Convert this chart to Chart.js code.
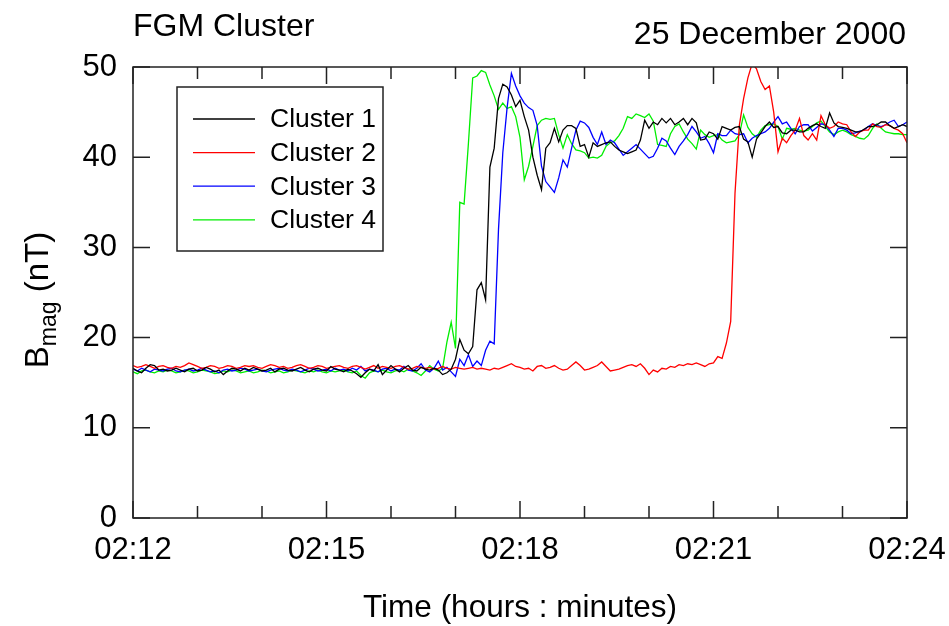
<!DOCTYPE html>
<html><head><meta charset="utf-8">
<script src="https://cdn.jsdelivr.net/npm/chart.js@4"></script>
<style>html,body{margin:0;padding:0;background:#fff}#wrap{width:949px;height:626px}</style>
</head><body><div id="wrap"><canvas id="c" width="949" height="626"></canvas></div>
<script>
// ---- data (4 s spin resolution) ----
const sampleStepSeconds = 4;
const seriesNames = ['Cluster 1', 'Cluster 2', 'Cluster 3', 'Cluster 4'];
const seriesColors = ['#000000', '#ff0000', '#0000ff', '#00ee00'];

const cluster1 = [
16.6,16.3,16.1,16.6,17.0,16.9,16.4,16.5,16.3,16.4,
16.6,16.4,16.2,16.5,16.6,16.3,16.4,16.7,16.5,16.2,
16.4,15.9,16.3,16.6,16.5,16.3,16.6,16.4,16.7,16.5,
16.3,16.4,16.6,16.2,16.5,16.6,16.4,16.3,16.5,16.7,
16.4,16.2,16.5,16.6,16.4,16.3,16.8,16.5,16.4,16.2,
16.5,16.3,16.0,15.6,16.1,16.5,16.3,17.0,15.9,16.4,
16.9,16.5,16.2,16.6,16.9,16.4,16.3,16.7,16.5,16.4,
16.6,16.4,15.9,16.1,16.5,17.6,19.8,18.6,18.2,19.0,
25.3,26.1,24.2,38.9,41.0,46.5,48.1,47.8,46.9,45.6,
46.3,44.5,43.0,40.0,38.0,36.4,41.0,41.6,43.2,41.7,
43.0,43.5,43.5,43.2,41.2,41.4,40.0,41.6,41.2,41.4,
41.6,41.7,41.2,40.8,40.6,40.4,40.6,40.8,41.9,44.1,
43.2,43.9,43.6,44.3,43.8,44.3,43.6,43.9,44.3,43.6,
44.3,43.8,41.9,42.0,42.8,42.6,42.0,43.4,43.2,43.0,
43.3,43.4,42.0,41.7,40.0,42.0,42.7,43.4,43.9,43.3,
43.4,42.7,42.6,43.0,43.0,42.8,42.8,43.2,43.5,43.7,
43.4,43.2,44.9,43.8,43.4,43.3,43.2,43.0,42.8,42.8,
43.1,43.4,43.4,43.6,43.9,43.9,43.5,43.2,43.4,43.6,43.4];

const cluster2 = [
16.9,16.7,16.8,17.0,16.8,16.6,16.8,16.9,16.7,16.6,
16.8,16.7,16.9,17.2,17.0,16.8,16.6,16.7,16.9,16.8,
16.6,16.7,16.9,16.8,16.6,16.7,16.9,16.8,16.9,16.7,
16.6,16.8,17.0,16.9,16.7,16.8,16.6,16.7,16.9,17.0,
16.8,16.6,16.7,16.9,16.8,16.6,16.7,16.8,16.9,16.7,
16.6,16.8,16.9,16.7,16.5,16.7,16.9,16.6,16.8,16.7,
16.6,16.8,16.9,16.7,16.5,16.6,16.8,16.7,16.6,16.7,
16.5,16.6,16.8,16.6,16.5,16.7,16.6,16.5,16.6,16.7,
16.5,16.6,16.5,16.4,16.6,16.5,16.7,16.9,17.1,16.8,
16.7,16.5,16.6,16.3,16.8,16.9,16.6,16.7,16.9,16.6,
16.4,16.5,16.9,17.3,16.9,16.4,16.5,16.7,16.9,17.3,
16.8,16.3,16.4,16.5,16.7,16.9,17.0,16.8,17.1,16.6,
15.9,16.4,16.2,16.6,16.5,16.8,16.7,17.0,16.9,17.1,
17.0,17.2,17.0,16.8,17.1,17.2,17.9,17.7,19.4,21.8,
36.0,43.5,46.5,48.8,50.4,49.8,48.4,47.5,47.9,45.0,
40.6,42.1,41.6,42.4,43.0,44.3,42.4,41.9,42.6,41.9,
44.6,43.6,43.2,43.4,43.9,43.7,43.6,42.8,42.3,42.8,
43.0,43.0,43.7,43.4,43.3,43.6,43.5,43.2,43.0,42.6,41.6];

const cluster3 = [
16.5,16.3,16.6,16.4,16.2,16.5,16.4,16.3,16.5,16.6,
16.3,16.2,16.4,16.5,16.3,16.4,16.6,16.4,16.2,16.3,
16.1,16.4,16.5,16.3,16.4,16.6,16.5,16.3,16.4,16.5,
16.3,16.2,16.4,16.5,16.6,16.4,16.3,16.5,16.4,16.2,
16.4,16.6,16.5,16.3,16.4,16.5,16.3,16.6,16.4,16.5,
16.3,16.6,16.4,16.8,16.3,16.5,16.4,16.2,16.5,16.6,
16.3,16.5,16.4,16.8,16.4,16.3,16.6,17.1,16.4,16.2,
16.6,17.4,16.4,16.7,16.2,15.7,17.6,16.9,18.1,16.8,
17.4,16.9,18.6,19.6,19.3,32.0,40.5,45.5,49.3,47.9,
46.8,46.0,45.5,45.2,43.5,39.0,37.3,36.7,36.1,37.7,
39.7,38.9,41.0,43.0,44.0,43.8,43.3,42.2,41.4,42.8,
41.4,41.9,41.6,40.9,40.2,40.6,41.0,41.4,40.9,40.4,
39.9,40.1,41.0,42.1,41.8,41.0,40.3,41.2,41.8,42.5,
43.4,42.8,42.1,42.3,41.5,40.5,42.6,42.4,42.4,43.0,
42.6,42.5,42.6,41.6,42.1,42.4,42.6,42.8,43.2,43.9,
44.5,43.7,43.9,43.2,42.6,43.4,43.6,43.6,42.9,43.3,
43.7,43.6,43.0,42.3,43.2,43.2,43.0,42.6,42.7,42.9,
43.0,43.4,43.7,43.5,43.4,43.6,43.9,44.1,43.4,43.6,43.9];

const cluster4 = [
16.2,16.0,16.3,16.4,16.2,16.1,16.3,16.2,16.4,16.3,
16.1,16.2,16.4,16.3,16.1,16.2,16.4,16.3,16.2,16.0,
16.1,16.3,16.2,16.4,16.3,16.1,16.2,16.3,16.1,16.2,
16.4,16.3,16.1,16.2,16.3,16.1,16.2,16.4,16.3,16.2,
16.1,16.3,16.2,16.4,16.2,16.1,16.3,16.2,16.3,16.4,
16.2,16.1,16.3,15.8,15.5,16.1,16.3,16.2,16.4,16.2,
16.1,16.3,16.4,16.2,16.5,16.3,16.1,15.8,16.3,16.9,
16.5,16.3,16.6,19.5,21.7,18.8,35.0,34.8,41.5,48.8,
49.0,49.6,49.4,48.0,46.8,45.3,46.0,45.4,45.6,44.5,
42.2,37.5,39.0,41.2,43.5,44.1,44.3,44.2,44.3,42.5,
41.0,42.5,41.5,40.8,40.7,40.5,39.9,40.0,39.9,40.2,
41.2,41.6,41.8,42.4,43.2,44.5,44.3,44.8,44.6,44.4,
44.8,44.0,41.4,41.3,41.2,42.6,43.4,43.7,42.8,42.0,
41.5,40.9,43.0,42.5,42.2,42.4,42.5,41.9,41.6,41.7,
41.8,42.5,44.7,43.3,42.6,42.2,43.0,43.5,43.6,43.7,
43.4,42.0,43.2,43.1,43.2,43.0,42.9,43.0,43.4,43.8,
44.0,43.4,42.8,42.5,42.8,43.0,42.8,42.5,42.3,42.1,
42.0,42.4,43.2,43.7,43.2,42.8,42.7,42.6,42.6,42.5,42.5];

// axis ticks: minutes after 02:12
const xTickValues = [0, 3, 6, 9, 12];
const xTickLabels = ['02:12', '02:15', '02:18', '02:21', '02:24'];
const xMinorTickValues = [0,1,2,3,4,5,6,7,8,9,10,11,12];
const yTickValues = [0, 10, 20, 30, 40, 50];

const FONT = "'Liberation Sans', Arial, Helvetica, sans-serif";
const allSeries = [cluster1, cluster2, cluster3, cluster4];

function toPoints(arr) {
  return arr.map((v, i) => ({ x: i * sampleStepSeconds / 60, y: v }));
}

const decor = {
  id: 'decor',
  afterDatasetsDraw(chart) {
    const { ctx, chartArea: a, scales: { x, y } } = chart;
    ctx.save();
    // frame
    ctx.strokeStyle = '#222';
    ctx.lineWidth = 1.5;
    ctx.strokeRect(a.left, a.top, a.right - a.left, a.bottom - a.top);
    // inward ticks
    ctx.beginPath();
    xMinorTickValues.forEach(m => {
      const px = x.getPixelForValue(m);
      const len = xTickValues.includes(m) ? 17 : 12;
      ctx.moveTo(px, a.bottom); ctx.lineTo(px, a.bottom - len);
      ctx.moveTo(px, a.top); ctx.lineTo(px, a.top + len);
    });
    yTickValues.forEach(v => {
      const py = y.getPixelForValue(v);
      ctx.moveTo(a.left, py); ctx.lineTo(a.left + 17, py);
      ctx.moveTo(a.right, py); ctx.lineTo(a.right - 17, py);
    });
    ctx.stroke();

    // header texts
    ctx.fillStyle = '#000';
    ctx.textBaseline = 'alphabetic';
    ctx.font = '32px ' + FONT;
    ctx.textAlign = 'left';
    ctx.fillText('FGM Cluster', 133, 36);
    ctx.textAlign = 'right';
    ctx.fillText('25 December 2000', 906, 44);

    // x title
    ctx.textAlign = 'center';
    ctx.font = '31.5px ' + FONT;
    ctx.fillText('Time (hours : minutes)', (a.left + a.right) / 2, 617);

    // y title with subscript
    ctx.save();
    ctx.translate(48, 300);
    ctx.rotate(-Math.PI / 2);
    ctx.textAlign = 'left';
    const big = '33px ' + FONT, small = '23px ' + FONT;
    ctx.font = big; const wB = ctx.measureText('B').width; const wR = ctx.measureText(' (nT)').width;
    ctx.font = small; const wS = ctx.measureText('mag').width;
    let sx = -(wB + wS + wR) / 2;
    ctx.font = big; ctx.fillText('B', sx, 0); sx += wB;
    ctx.font = small; ctx.fillText('mag', sx, 8); sx += wS;
    ctx.font = big; ctx.fillText(' (nT)', sx, 0);
    ctx.restore();

    // legend
    const lx = 177, ly = 87, lw = 206, lh = 164;
    ctx.fillStyle = '#fff';
    ctx.fillRect(lx, ly, lw, lh);
    ctx.strokeStyle = '#222'; ctx.lineWidth = 1.5;
    ctx.strokeRect(lx, ly, lw, lh);
    ctx.font = '26.5px ' + FONT;
    ctx.textAlign = 'left';
    ctx.textBaseline = 'middle';
    chart.data.datasets.forEach((ds, i) => {
      const yy = 119 + i * 33.6;
      ctx.strokeStyle = ds.borderColor; ctx.lineWidth = 1.3;
      ctx.beginPath(); ctx.moveTo(193, yy); ctx.lineTo(255, yy); ctx.stroke();
      ctx.fillStyle = '#000';
      ctx.fillText(ds.label, 270, yy + 1);
    });
    ctx.restore();
  }
};

new Chart(document.getElementById('c'), {
  type: 'line',
  data: {
    datasets: allSeries.map((arr, i) => ({
      label: seriesNames[i],
      data: toPoints(arr),
      borderColor: seriesColors[i],
      borderWidth: 1.3,
      pointRadius: 0,
      tension: 0,
      fill: false
    }))
  },
  options: {
    responsive: false,
    animation: false,
    events: [],
    layout: { padding: { left: 0, right: 42, top: 67, bottom: 0 } },
    plugins: { legend: { display: false }, tooltip: { enabled: false }, title: { display: false } },
    scales: {
      x: {
        type: 'linear', min: 0, max: 12,
        grid: { display: false, drawTicks: false },
        border: { display: false },
        afterFit(s) { s.height = 108; s.paddingLeft = 0; s.paddingRight = 0; },
        ticks: {
          stepSize: 3, autoSkip: false, maxRotation: 0, padding: 14,
          color: '#000', font: { family: FONT, size: 31 },
          callback: v => { const k = xTickValues.indexOf(v); return k >= 0 ? xTickLabels[k] : ''; }
        }
      },
      y: {
        type: 'linear', min: 0, max: 50,
        grid: { display: false, drawTicks: false },
        border: { display: false },
        afterFit(s) { s.width = 133; s.paddingTop = 0; s.paddingBottom = 0; },
        ticks: {
          stepSize: 10, padding: 16,
          color: '#000', font: { family: FONT, size: 31 },
          callback: v => yTickValues.includes(v) ? String(v) : ''
        }
      }
    }
  },
  plugins: [decor]
});
</script>
</body></html>
